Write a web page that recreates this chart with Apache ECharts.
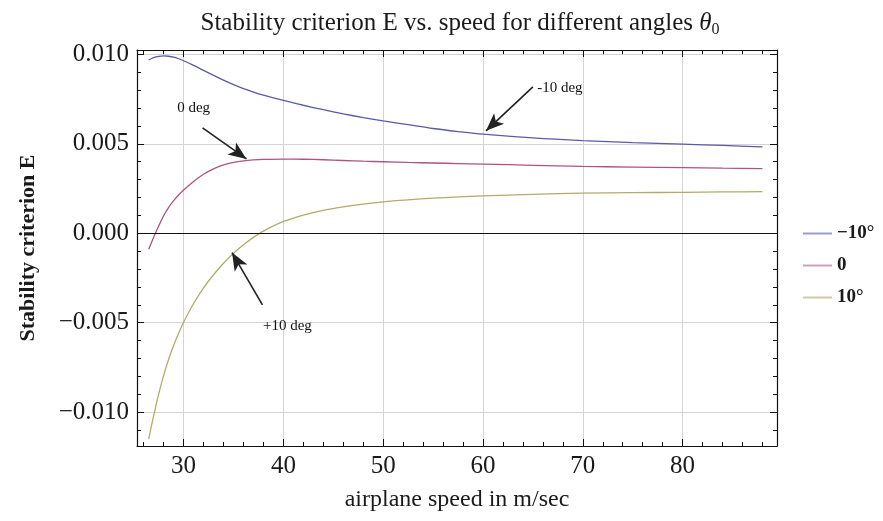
<!DOCTYPE html>
<html>
<head>
<meta charset="utf-8">
<script src="https://cdn.jsdelivr.net/npm/echarts@6/dist/echarts.min.js"></script>
<style>
  html, body { margin: 0; padding: 0; background: #fff; }
  #chart { width: 883px; height: 521px; }
</style>
</head>
<body>
<div id="chart"></div>
<script>
// Airplane speed (m/s) at which the criterion was evaluated
var speeds = [26.5, 27, 27.5, 28, 28.5, 29, 29.5, 30, 31, 32, 33, 34, 35, 36, 37, 38, 40, 42, 44, 46, 48, 50,
              52.5, 55, 57.5, 60, 65, 70, 75, 80, 84, 88];

// Stability criterion E for each initial angle theta0
var eMinus10 = [0.00969, 0.00982, 0.00989, 0.00992, 0.00990, 0.00985, 0.00976, 0.00965, 0.00939, 0.00911,
                0.00883, 0.00856, 0.00831, 0.00809, 0.00790, 0.00773, 0.00743, 0.00716, 0.00691, 0.00668,
                0.00647, 0.00628, 0.00607, 0.00586, 0.00569, 0.00554, 0.00533, 0.00518, 0.00507, 0.00498,
                0.00491, 0.00483];
var eZero    = [-0.00090, -0.00022, 0.00040, 0.00098, 0.00145, 0.00182, 0.00214, 0.00242, 0.00290, 0.00330,
                0.00360, 0.00382, 0.00396, 0.00405, 0.00410, 0.00413, 0.00415, 0.00414, 0.00411, 0.00407,
                0.00403, 0.00400, 0.00396, 0.00393, 0.00390, 0.00387, 0.00380, 0.00374, 0.00370, 0.00367,
                0.00364, 0.00361];
var ePlus10  = [-0.01150, -0.01020, -0.00900, -0.00795, -0.00705, -0.00628, -0.00560, -0.00498, -0.00393, -0.00305,
                -0.00232, -0.00168, -0.00112, -0.00064, -0.00023, 0.00012, 0.00066, 0.00102, 0.00128, 0.00147,
                0.00163, 0.00176, 0.00187, 0.00196, 0.00203, 0.00209, 0.00218, 0.00224, 0.00227, 0.00229,
                0.00231, 0.00233];

var seriesNames = ['\u221210\u00b0', '0', '10\u00b0'];
var lineColors = ['#5a5aaa', '#ad5483', '#b3ab6a'];
var legendColors = ['#9a9ad6', '#d69cb8', '#cccaa0'];

// Arrow annotations: [label, label position, arrow tail, arrow tip] in data units
var notes = [
  ['0 deg',   [31.0, 0.00701], [31.9, 0.00589], [36.3, 0.00416]],
  ['-10 deg', [67.7, 0.00813], [65.0, 0.00819], [60.3, 0.00573]],
  ['+10 deg', [40.4, -0.00518], [37.9, -0.00401], [34.85, -0.00108]]
];

var serif = '"Liberation Serif", "DejaVu Serif", serif';

function pairs(xs, ys) {
  return xs.map(function (x, i) { return [x, ys[i]]; });
}

function fmtY(v) {
  var s = Math.abs(v).toFixed(3);
  return (v < -1e-9 ? '\u2212' : '') + s;
}

var xRange = [25.33, 89.46];
var yRange = [-0.0119, 0.01025];

function xAxisCfg(pos, labels) {
  return {
    type: 'value', position: pos, min: xRange[0], max: xRange[1],
    minInterval: 10, maxInterval: 10,
    axisLine: { show: true, onZero: false, lineStyle: { color: '#111', width: 1.2 } },
    axisTick: { show: true, inside: true, length: 7, lineStyle: { color: '#111', width: 1 } },
    minorTick: { show: true, splitNumber: 5, length: 4, lineStyle: { color: '#111', width: 1 } },
    splitLine: { show: labels, lineStyle: { color: '#d4d4d4', width: 1 } },
    axisLabel: { show: labels, showMinLabel: false, showMaxLabel: false, margin: 8,
                 fontFamily: serif, fontSize: 25, color: '#1a1a1a' },
    name: labels ? 'airplane speed in m/sec' : '',
    nameLocation: 'middle', nameGap: 42,
    nameTextStyle: { fontFamily: serif, fontSize: 24, color: '#1a1a1a' }
  };
}

function yAxisCfg(pos, labels) {
  return {
    type: 'value', position: pos, min: yRange[0], max: yRange[1],
    minInterval: 0.005, maxInterval: 0.005,
    axisLine: { show: true, onZero: false, lineStyle: { color: '#111', width: 1.2 } },
    axisTick: { show: true, inside: true, length: 7, lineStyle: { color: '#111', width: 1 } },
    minorTick: { show: true, splitNumber: 5, length: 4, lineStyle: { color: '#111', width: 1 } },
    splitLine: { show: labels, lineStyle: { color: '#d4d4d4', width: 1 } },
    axisLabel: { show: labels, showMinLabel: false, showMaxLabel: false, margin: 8,
                 fontFamily: serif, fontSize: 25, color: '#1a1a1a', formatter: fmtY },
    name: labels ? 'Stability criterion E' : '',
    nameLocation: 'middle', nameGap: 98,
    nameTextStyle: { fontFamily: serif, fontSize: 22, fontWeight: 'bold', color: '#1a1a1a' }
  };
}

var dataSeries = [eMinus10, eZero, ePlus10].map(function (ys, i) {
  return {
    name: seriesNames[i], type: 'line', data: pairs(speeds, ys),
    smooth: 0.3, symbol: 'none', silent: true,
    lineStyle: { color: lineColors[i], width: 1.3 },
    itemStyle: { color: lineColors[i] }
  };
});

// Horizontal axis at E = 0 plus the labelled arrows
var markLines = [[
  { coord: [xRange[0], 0], symbol: 'none' },
  { coord: [xRange[1], 0], symbol: 'none' }
]];
var arrowStyle = { color: '#222', width: 1.6, type: 'solid' };
notes.forEach(function (n) {
  markLines.push([
    { coord: n[2], symbol: 'none', lineStyle: arrowStyle },
    { coord: n[3], symbol: 'arrow', symbolSize: [11, 18] }
  ]);
});

var annotationSeries = {
  name: 'annotations', type: 'line', data: [], silent: true, symbol: 'none',
  markLine: {
    silent: true, animation: false, symbol: 'none',
    label: { show: false },
    lineStyle: { color: '#111', width: 1.2, type: 'solid' },
    itemStyle: { color: '#111' },
    emphasis: { disabled: true },
    data: markLines
  },
  markPoint: {
    silent: true, animation: false, symbol: 'circle', symbolSize: 0,
    label: { show: true, position: 'inside', fontFamily: serif, fontSize: 15, color: '#111' },
    data: notes.map(function (n) {
      return { coord: n[1], value: n[0], label: { formatter: n[0] } };
    })
  }
};

var chart = echarts.init(document.getElementById('chart'), null, { renderer: 'canvas' });
chart.setOption({
  animation: false,
  backgroundColor: '#ffffff',
  title: {
    text: 'Stability criterion E vs. speed for different angles {th|\u03b8}{sub|0}',
    left: 455, top: 4, textAlign: 'center',
    textStyle: {
      fontFamily: serif, fontSize: 25, fontWeight: 'normal', color: '#1a1a1a',
      rich: {
        th: { fontFamily: serif, fontSize: 25, fontStyle: 'italic', color: '#1a1a1a' },
        sub: { fontFamily: serif, fontSize: 16, color: '#1a1a1a', padding: [13, 0, 0, 0] }
      }
    }
  },
  legend: {
    orient: 'vertical', left: 798, top: 219, itemGap: 13,
    itemWidth: 29, itemHeight: 10,
    textStyle: { fontFamily: serif, fontSize: 19, fontWeight: 'bold', color: '#1a1a1a' },
    data: seriesNames.map(function (n, i) {
      return { name: n, icon: 'path://M0,0 L30,0 L30,2 L0,2 Z',
               itemStyle: { color: legendColors[i] } };
    })
  },
  grid: { left: 137, right: 106, top: 50, bottom: 75 },
  xAxis: [xAxisCfg('bottom', true), xAxisCfg('top', false)],
  yAxis: [yAxisCfg('left', true), yAxisCfg('right', false)],
  series: dataSeries.concat([annotationSeries])
});
</script>
</body>
</html>
